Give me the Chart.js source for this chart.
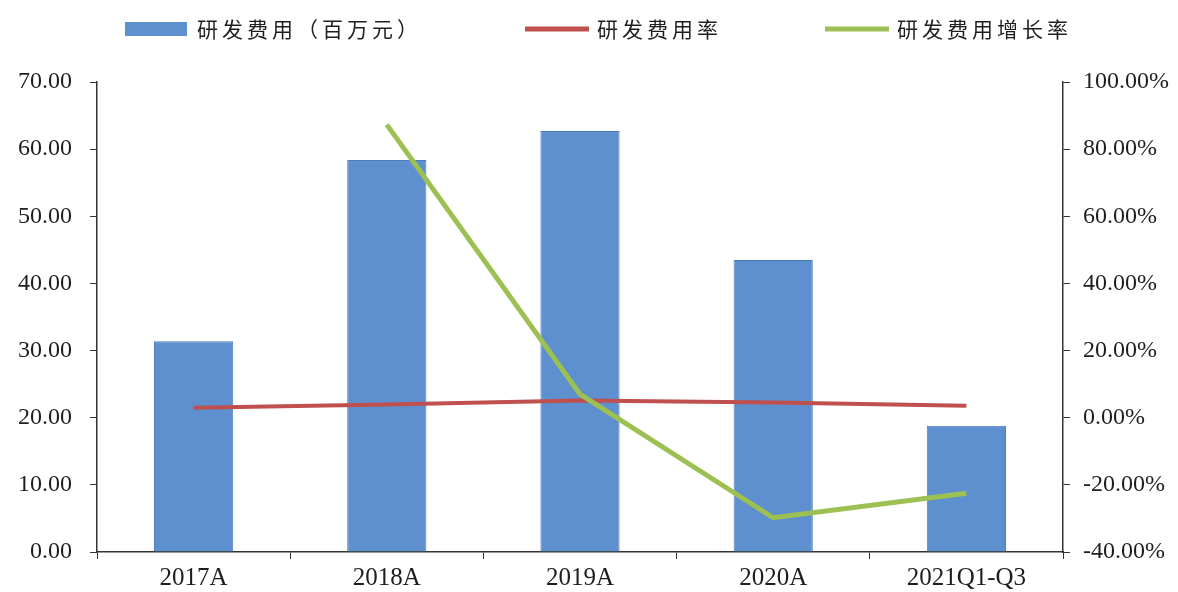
<!DOCTYPE html>
<html>
<head>
<meta charset="utf-8">
<script src="https://cdn.jsdelivr.net/npm/chart.js@4"></script>
<style>
  html, body { margin: 0; padding: 0; background: #fff; }
  #wrap { width: 1178px; height: 592px; position: relative; }
</style>
</head>
<body>
<div id="wrap"><canvas id="rdChart"></canvas></div>
<script>
const categories = ['2017A', '2018A', '2019A', '2020A', '2021Q1-Q3'];
const rdExpense = [31.4, 58.4, 62.7, 43.5, 18.8];
const rdRate = [3.0, 3.9, 5.1, 4.5, 3.6];
const rdGrowth = [null, 87.3, 7.0, -29.8, -22.5];
const seriesNames = ['研发费用（百万元）', '研发费用率', '研发费用增长率'];

const serif = '"Liberation Serif", "Times New Roman", serif';
const cjk = '"Noto Sans CJK SC", sans-serif';

// legend drawn by hand so the item spacing can follow the original
const legendX = [125, 525, 825];
const topLegend = {
  id: 'topLegend',
  afterDraw(chart) {
    const c = chart.ctx;
    c.save();
    chart.data.datasets.forEach((ds, i) => {
      const x = legendX[i], y = 29;
      if (ds.type === 'bar') {
        c.fillStyle = ds.backgroundColor;
        c.fillRect(x, y - 7, 62, 14);
      } else {
        c.strokeStyle = ds.borderColor;
        c.lineWidth = 5;
        c.beginPath();
        c.moveTo(x, y);
        c.lineTo(x + 64, y);
        c.stroke();
      }
      c.fillStyle = '#1e1e1e';
      c.font = '21px ' + cjk;
      c.letterSpacing = '4px';
      c.textBaseline = 'middle';
      c.fillText(ds.label, x + 72, y);
    });
    c.restore();
  }
};

const ctx = document.getElementById('rdChart').getContext('2d');
const rdChart = new Chart(ctx, {
  data: {
    labels: categories,
    datasets: [
      {
        type: 'bar',
        label: seriesNames[0],
        data: rdExpense,
        backgroundColor: '#5E8FCE',
        borderColor: '#4E7EBB',
        borderWidth: 1,
        yAxisID: 'y',
        categoryPercentage: 1,
        barPercentage: 0.41,
        order: 2
      },
      {
        type: 'line',
        label: seriesNames[1],
        data: rdRate,
        borderColor: '#C0504D',
        borderWidth: 4,
        pointRadius: 0,
        tension: 0,
        yAxisID: 'y1',
        order: 1
      },
      {
        type: 'line',
        label: seriesNames[2],
        data: rdGrowth,
        borderColor: '#9DC052',
        borderWidth: 5,
        pointRadius: 0,
        tension: 0,
        yAxisID: 'y1',
        order: 0
      }
    ]
  },
  options: {
    responsive: true,
    maintainAspectRatio: false,
    animation: false,
    layout: { padding: { top: 82, right: 0, bottom: 0, left: 0 } },
    plugins: {
      legend: { display: false },
      tooltip: { enabled: false }
    },
    scales: {
      x: {
        offset: true,
        grid: {
          offset: true,
          drawOnChartArea: false,
          drawTicks: true,
          tickLength: 7,
          color: '#333'
        },
        border: { color: '#333', width: 1.5 },
        ticks: {
          color: '#1e1e1e',
          font: { family: serif, size: 25 },
          padding: 4
        },
        afterFit(s) { s.height = 40; }
      },
      y: {
        position: 'left',
        min: 0,
        max: 70,
        grid: {
          drawOnChartArea: false,
          drawTicks: true,
          tickLength: 7,
          color: '#333'
        },
        border: { color: '#333', width: 1.5 },
        ticks: {
          stepSize: 10,
          color: '#1e1e1e',
          font: { family: serif, size: 24 },
          padding: 18,
          callback: v => v.toFixed(2)
        },
        afterFit(s) { s.width = 97; }
      },
      y1: {
        position: 'right',
        min: -40,
        max: 100,
        grid: {
          drawOnChartArea: false,
          drawTicks: true,
          tickLength: 7,
          color: '#333'
        },
        border: { color: '#333', width: 1.5 },
        ticks: {
          stepSize: 20,
          color: '#1e1e1e',
          font: { family: serif, size: 24 },
          padding: 13,
          callback: v => v.toFixed(2) + '%'
        },
        afterFit(s) { s.width = 115; }
      }
    }
  },
  plugins: [topLegend]
});
</script>
</body>
</html>
